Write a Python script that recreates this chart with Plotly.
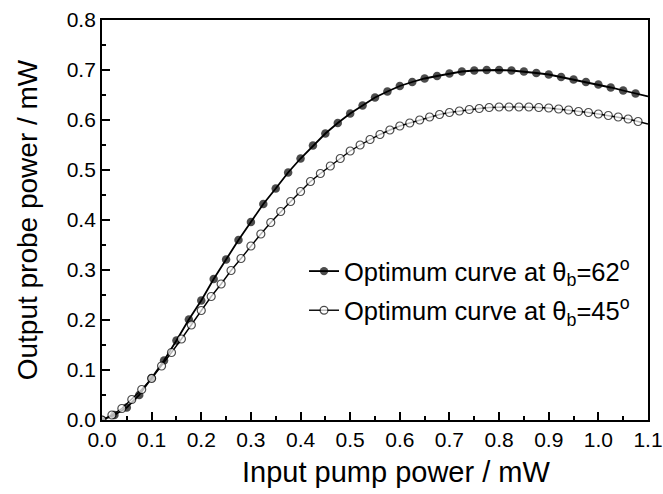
import plotly.graph_objects as go

# theta_b = 62 deg (filled markers, step 0.025); last point is line end only
x62 = [0.0, 0.025, 0.05, 0.075, 0.1, 0.125, 0.15, 0.175, 0.2, 0.225, 0.25, 0.275,
       0.3, 0.325, 0.35, 0.375, 0.4, 0.425, 0.45, 0.475, 0.5, 0.525, 0.55, 0.575,
       0.6, 0.625, 0.65, 0.675, 0.7, 0.725, 0.75, 0.775, 0.8, 0.825, 0.85, 0.875,
       0.9, 0.925, 0.95, 0.975, 1.0, 1.025, 1.05, 1.075, 1.1]
y62 = [0.0, 0.01, 0.025, 0.05, 0.084, 0.119, 0.159, 0.201, 0.239, 0.282, 0.321, 0.36,
       0.396, 0.432, 0.463, 0.495, 0.523, 0.549, 0.573, 0.594, 0.613, 0.629, 0.645, 0.657,
       0.668, 0.676, 0.683, 0.688, 0.693, 0.697, 0.699, 0.700, 0.700, 0.699, 0.697, 0.694,
       0.691, 0.686, 0.681, 0.676, 0.671, 0.665, 0.659, 0.653, 0.647]

# theta_b = 45 deg (open markers, step 0.02); last point is line end only
x45 = [0.0, 0.02, 0.04, 0.06, 0.08, 0.1, 0.12, 0.14, 0.16, 0.18, 0.2, 0.22, 0.24,
       0.26, 0.28, 0.3, 0.32, 0.34, 0.36, 0.38, 0.4, 0.42, 0.44, 0.46, 0.48, 0.5,
       0.52, 0.54, 0.56, 0.58, 0.6, 0.62, 0.64, 0.66, 0.68, 0.7, 0.72, 0.74, 0.76,
       0.78, 0.8, 0.82, 0.84, 0.86, 0.88, 0.9, 0.92, 0.94, 0.96, 0.98, 1.0, 1.02,
       1.04, 1.06, 1.08, 1.1]
y45 = [0.0, 0.01, 0.023, 0.041, 0.061, 0.083, 0.108, 0.135, 0.162, 0.19, 0.219, 0.247,
       0.272, 0.299, 0.323, 0.348, 0.372, 0.395, 0.417, 0.437, 0.457, 0.477, 0.493,
       0.508, 0.523, 0.538, 0.55, 0.561, 0.571, 0.58, 0.588, 0.594, 0.6, 0.606, 0.611,
       0.615, 0.618, 0.621, 0.623, 0.625, 0.626, 0.626, 0.626, 0.626, 0.625, 0.624,
       0.622, 0.62, 0.617, 0.615, 0.612, 0.609, 0.606, 0.602, 0.597, 0.592]

name62 = "Optimum curve at θ<sub>b</sub>=62<sup>o</sup>"
name45 = "Optimum curve at θ<sub>b</sub>=45<sup>o</sup>"
x_title = "Input pump power / mW"
y_title = "Output probe power / mW"

x_ticks = [0.0, 0.1, 0.2, 0.3, 0.4, 0.5, 0.6, 0.7, 0.8, 0.9, 1.0, 1.1]
y_ticks = [0.0, 0.1, 0.2, 0.3, 0.4, 0.5, 0.6, 0.7, 0.8]

FONT = "Liberation Sans, Arial, sans-serif"

fig = go.Figure()
fig.add_trace(go.Scatter(
    x=x62, y=y62, mode="lines+markers", name=name62,
    legendgroup="a",
    line=dict(color="black", width=1.8),
    marker=dict(symbol="circle", color="black", size=[8.5] * (len(x62) - 1) + [0],
                line=dict(color="black", width=0)),
))
fig.add_trace(go.Scatter(
    x=x45, y=y45, mode="lines+markers", name=name45,
    legendgroup="b",
    line=dict(color="black", width=1.4),
    marker=dict(symbol="circle", color="white", size=[8] * (len(x45) - 1) + [0],
                line=dict(color="black", width=1.2)),
))

axis_common = dict(
    showline=True, linecolor="black", linewidth=1.8, mirror=True,
    ticks="inside", ticklen=8, tickwidth=1.5, tickcolor="black",
    showgrid=False, zeroline=False, automargin=False,
    ticklabeloverflow="allow",
    tickfont=dict(family=FONT, size=21, color="black"),
    minor=dict(ticks="inside", ticklen=4, tickwidth=1.5, tickcolor="black", showgrid=False),
)

fig.update_xaxes(
    range=[0, 1.1], tickvals=x_ticks, ticktext=[f"{v:.1f}" for v in x_ticks],
    minor_dtick=0.05, minor_tick0=0,
    **axis_common,
)
fig.update_yaxes(
    range=[0, 0.8], tickvals=y_ticks, ticktext=[f"{v:.1f}" for v in y_ticks],
    minor_dtick=0.05, minor_tick0=0,
    title=dict(text=y_title, font=dict(family=FONT, size=28, color="black"),
               standoff=21),
    **axis_common,
)

fig.add_annotation(
    text=x_title, xref="paper", yref="paper", x=0.538, y=-0.13,
    xanchor="center", yanchor="middle", showarrow=False,
    font=dict(family=FONT, size=29, color="black"),
)

fig.update_layout(
    width=663, height=494,
    margin=dict(l=102, r=15, t=20, b=74),
    paper_bgcolor="white", plot_bgcolor="white",
    font=dict(family=FONT, color="black"),
    showlegend=True,
    legend=dict(x=0.37, y=0.43, xanchor="left", yanchor="top",
                bgcolor="rgba(0,0,0,0)", borderwidth=0,
                font=dict(family=FONT, size=25.5, color="black"),
                traceorder="grouped", tracegroupgap=3),
)

fig.write_html("out.html", config={"displayModeBar": False},
               post_script="document.body.style.margin='0';document.body.style.overflow='hidden';")
